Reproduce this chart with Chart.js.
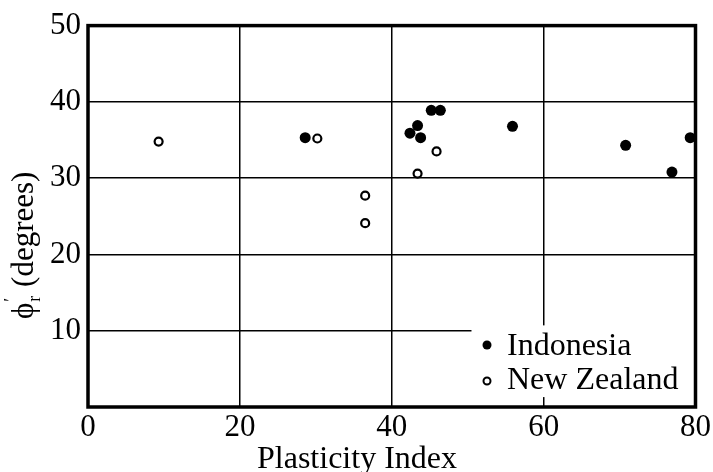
<!DOCTYPE html>
<html>
<head>
<meta charset="utf-8">
<script src="https://cdn.jsdelivr.net/npm/chart.js@4.4.0/dist/chart.umd.min.js"></script>
<style>
  html, body { margin: 0; padding: 0; background: #fff; }
  canvas { display: block; }
</style>
</head>
<body>
<canvas id="c" width="713" height="472"></canvas>
<script>
// ---- data ----
const seriesNames = ['Indonesia', 'New Zealand'];
const indonesiaPI  = [28.6, 42.4, 43.4, 43.8, 45.2, 46.4, 55.9, 70.8, 76.9, 79.3];
const indonesiaPhi = [35.3, 35.9, 36.9, 35.3, 38.9, 38.9, 36.8, 34.3, 30.8, 35.3];
const nzPI  = [9.3, 30.2, 36.5, 36.5, 43.4, 45.9];
const nzPhi = [34.8, 35.2, 27.7, 24.1, 30.6, 33.5];
const xTicks = [0, 20, 40, 60, 80];
const yTicks = [10, 20, 30, 40, 50];
const xTitle = 'Plasticity Index';
const yTitleParts = ['ϕ', '′', 'r', ' (degrees)'];

const toPoints = (xs, ys) => xs.map((x, i) => ({ x: x, y: ys[i] }));
const SERIF = '"Liberation Serif", "Times New Roman", serif';

const overlay = {
  id: 'overlay',
  afterDatasetsDraw(chart) {
    const ctx = chart.ctx;
    const a = chart.chartArea;
    const xs = chart.scales.x, ys = chart.scales.y;
    ctx.save();
    // legend box (white, covers grid)
    const lx = xs.getPixelForValue(50.5), rx = a.right - 1;
    const ty = ys.getPixelForValue(10.7), by = ys.getPixelForValue(1.3);
    ctx.fillStyle = '#fff';
    ctx.fillRect(lx, ty, rx - lx, by - ty);
    // legend items
    const ds = chart.data.datasets;
    const rows = [{ y: 345, base: 355 }, { y: 381, base: 389 }];
    ds.forEach((d, i) => {
      ctx.beginPath();
      ctx.arc(487, rows[i].y, i === 0 ? 4.5 : 3.5, 0, Math.PI * 2);
      if (i === 0) { ctx.fillStyle = '#000'; ctx.fill(); }
      else { ctx.lineWidth = 2; ctx.strokeStyle = '#000'; ctx.stroke(); }
      ctx.fillStyle = '#000';
      ctx.font = '32px ' + SERIF;
      ctx.textAlign = 'left';
      ctx.textBaseline = 'alphabetic';
      ctx.fillText(d.label, 507, rows[i].base);
    });
    // frame
    ctx.strokeStyle = '#000';
    ctx.lineWidth = 3.5;
    ctx.strokeRect(a.left, a.top, a.right - a.left, a.bottom - a.top);
    ctx.restore();
  },
  afterDraw(chart) {
    const ctx = chart.ctx;
    ctx.save();
    ctx.fillStyle = '#000';
    // x title
    ctx.font = '32px ' + SERIF;
    ctx.textAlign = 'center';
    ctx.textBaseline = 'alphabetic';
    ctx.fillText(xTitle, 357, 468);
    // y title (rotated)
    ctx.translate(33, 319);
    ctx.rotate(-Math.PI / 2);
    ctx.textAlign = 'left';
    let x = 0;
    ctx.font = '31px ' + SERIF;
    ctx.fillText(yTitleParts[0], x, 0);
    x += ctx.measureText(yTitleParts[0]).width;
    ctx.font = '18px ' + SERIF;
    ctx.fillText(yTitleParts[1], x + 1, -16);
    ctx.fillText(yTitleParts[2], x + 1, 7);
    x += ctx.measureText(yTitleParts[2]).width + 2;
    ctx.font = '31px ' + SERIF;
    ctx.fillText(yTitleParts[3], x, 0);
    ctx.restore();
  }
};

new Chart(document.getElementById('c'), {
  type: 'scatter',
  data: {
    datasets: [
      {
        label: seriesNames[0],
        data: toPoints(indonesiaPI, indonesiaPhi),
        pointRadius: 5.5,
        pointBackgroundColor: '#000',
        pointBorderColor: '#000',
        pointBorderWidth: 0,
        pointHoverRadius: 5.5
      },
      {
        label: seriesNames[1],
        data: toPoints(nzPI, nzPhi),
        pointRadius: 4,
        pointBackgroundColor: '#fff',
        pointBorderColor: '#000',
        pointBorderWidth: 2.2,
        pointHoverRadius: 4
      }
    ]
  },
  options: {
    responsive: false,
    animation: false,
    devicePixelRatio: 1,
    layout: { padding: { top: 25, right: 15, left: 0, bottom: 0 } },
    plugins: {
      legend: { display: false },
      tooltip: { enabled: false }
    },
    scales: {
      x: {
        type: 'linear',
        min: 0, max: 80,
        afterBuildTicks: s => { s.ticks = xTicks.map(v => ({ value: v })); },
        afterFit: s => { s.height = 65; },
        grid: { color: '#000', lineWidth: 1.5, drawTicks: false },
        border: { display: false },
        ticks: {
          padding: 2,
          color: '#000',
          font: { family: SERIF, size: 31 },
          maxRotation: 0
        }
      },
      y: {
        type: 'linear',
        min: 0, max: 50,
        afterBuildTicks: s => { s.ticks = [0].concat(yTicks).map(v => ({ value: v })); },
        afterFit: s => { s.width = 88; },
        grid: { color: '#000', lineWidth: 1.5, drawTicks: false },
        border: { display: false },
        ticks: {
          padding: 7,
          color: '#000',
          font: { family: SERIF, size: 31 },
          callback: v => (v === 0 ? '' : String(v))
        }
      }
    }
  },
  plugins: [overlay]
});
</script>
</body>
</html>
